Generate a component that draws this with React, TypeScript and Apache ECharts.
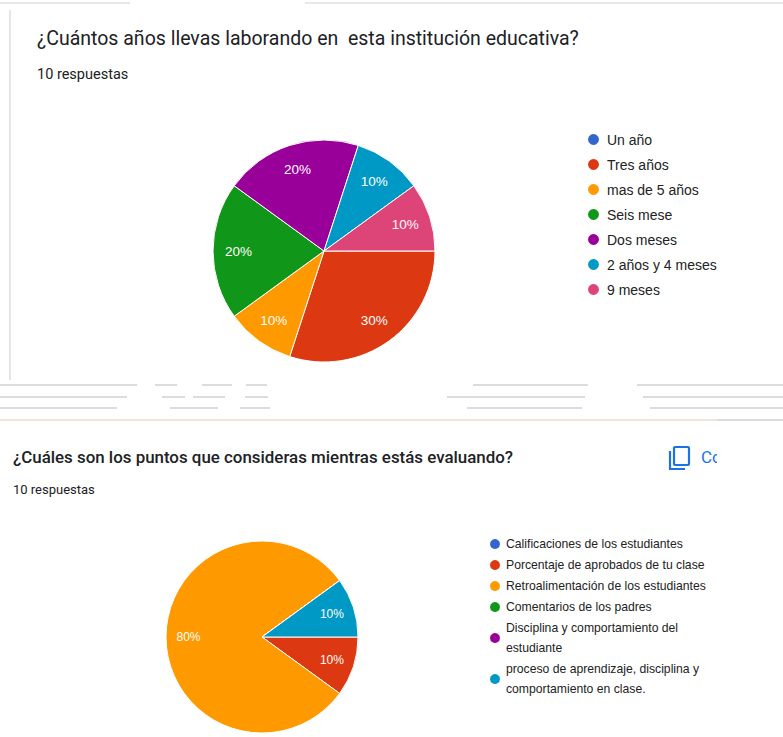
import React, { useEffect, useRef } from "react";
import * as echarts from "echarts";

const topTitle = "¿Cuántos años llevas laborando en  esta institución educativa?";
const bottomTitle = "¿Cuáles son los puntos que consideras mientras estás evaluando?";
const responsesText = "10 respuestas";

const topCategories = ["Un año", "Tres años", "mas de 5 años", "Seis mese", "Dos meses", "2 años y 4 meses", "9 meses"];
const topValues = [0, 3, 1, 2, 2, 1, 1];
const topColors = ["#3366cc", "#dc3912", "#ff9900", "#109618", "#990099", "#0099c6", "#dd4477"];

const bottomCategories = [
  "Calificaciones de los estudiantes",
  "Porcentaje de aprobados de tu clase",
  "Retroalimentación de los estudiantes",
  "Comentarios de los padres",
  "Disciplina y comportamiento del estudiante",
  "proceso de aprendizaje, disciplina y comportamiento en clase.",
];
const bottomValues = [0, 1, 8, 0, 0, 1];
const bottomColors = ["#3366cc", "#dc3912", "#ff9900", "#109618", "#990099", "#0099c6"];

const ARIAL = "'Liberation Sans', Arial, sans-serif";
const ROBOTO = "Roboto, 'Noto Sans', sans-serif";

function mkData(names: string[], values: number[], colors: string[]) {
  return names.map((n, i) => ({ name: n, value: values[i], itemStyle: { color: colors[i] } }));
}

function seg(y: number, x1: number, x2: number, color = "#dcdcdc", w = 2) {
  return { type: "line", silent: true, shape: { x1, y1: y, x2, y2: y }, style: { stroke: color, lineWidth: w } };
}

export default function App() {
  const ref = useRef<HTMLDivElement>(null);
  useEffect(() => {
    if (!ref.current) return;
    const chart = echarts.init(ref.current, undefined, { renderer: "svg" });
    const labelCfg = (size: number) => ({
      show: true,
      position: "inside",
      formatter: "{d}%",
      color: "#fff",
      fontSize: size,
      fontFamily: ARIAL,
    });
    chart.setOption({
      animation: false,
      backgroundColor: "#ffffff",
      title: [
        { text: topTitle, left: 37, top: 28, padding: 0, textStyle: { fontFamily: ROBOTO, fontSize: 19.5, fontWeight: "normal", color: "#202124" } },
        { text: responsesText, left: 37, top: 67, padding: 0, textStyle: { fontFamily: ROBOTO, fontSize: 14.5, fontWeight: "normal", color: "#202124" } },
        { text: bottomTitle, left: 13, top: 448, padding: 0, textStyle: { fontFamily: ROBOTO, fontSize: 16.9, fontWeight: 500, color: "#202124" } },
        { text: responsesText, left: 13, top: 483, padding: 0, textStyle: { fontFamily: ROBOTO, fontSize: 13, fontWeight: "normal", color: "#202124" } },
      ],
      legend: [
        {
          data: topCategories,
          orient: "vertical",
          left: 586,
          top: 132,
          padding: 0,
          icon: "circle",
          itemWidth: 13,
          itemHeight: 13,
          itemGap: 10,
          selectedMode: false,
          textStyle: { fontFamily: ARIAL, fontSize: 14, color: "#222", padding: [0, 0, 0, 2] },
        },
        {
          data: bottomCategories,
          orient: "vertical",
          left: 488,
          top: 534,
          padding: 0,
          icon: "circle",
          itemWidth: 12,
          itemHeight: 12,
          itemGap: 1,
          selectedMode: false,
          textStyle: { fontFamily: ARIAL, fontSize: 12.2, color: "#222", lineHeight: 20, width: 216, overflow: "break" },
        },
      ],
      series: [
        {
          type: "pie",
          center: [324, 251],
          radius: [0, 111],
          startAngle: 0,
          clockwise: true,
          silent: true,
          label: { show: false },
          labelLine: { show: false },
          itemStyle: { borderColor: "#fff", borderWidth: 1 },
          data: mkData(topCategories, topValues, topColors),
        },
        {
          type: "pie",
          center: [262, 637],
          radius: [0, 96],
          startAngle: 0,
          clockwise: true,
          silent: true,
          label: { show: false },
          labelLine: { show: false },
          itemStyle: { borderColor: "#fff", borderWidth: 1 },
          data: mkData(bottomCategories, bottomValues, bottomColors),
        },
        {
          type: "pie",
          center: [324, 251],
          radius: [54, 111],
          startAngle: 0,
          clockwise: true,
          silent: true,
          minShowLabelAngle: 1,
          avoidLabelOverlap: false,
          label: labelCfg(13.5),
          labelLine: { show: false },
          itemStyle: { color: "rgba(0,0,0,0)", borderWidth: 0 },
          data: topValues,
        },
        {
          type: "pie",
          center: [262, 637],
          radius: [45, 96],
          startAngle: 0,
          clockwise: true,
          silent: true,
          minShowLabelAngle: 1,
          avoidLabelOverlap: false,
          label: labelCfg(12),
          labelLine: { show: false },
          itemStyle: { color: "rgba(0,0,0,0)", borderWidth: 0 },
          data: bottomValues,
        },
      ],
      graphic: [
        seg(3, 0, 130, "#e8e8e8", 2),
        seg(3, 305, 783, "#e8e8e8", 2),
        { type: "line", silent: true, shape: { x1: 10, y1: 10, x2: 10, y2: 380 }, style: { stroke: "#dddddd", lineWidth: 1.5 } },
        seg(385, 0, 137), seg(385, 155, 177), seg(385, 202, 232), seg(385, 246, 267), seg(385, 473, 588), seg(385, 637, 783),
        seg(397, 0, 127), seg(397, 162, 185), seg(397, 193, 225), seg(397, 245, 268), seg(397, 447, 585), seg(397, 643, 783),
        seg(408, 0, 117), seg(408, 170, 218), seg(408, 240, 270), seg(408, 467, 582), seg(408, 650, 783),
        seg(420, 0, 717, "#f3e4d6", 2),
        seg(420, 717, 783, "#dddddd", 2),
        {
          type: "rect",
          silent: true,
          shape: { x: 674, y: 447, width: 15, height: 18, r: 1 },
          style: { fill: "none", stroke: "#1a73e8", lineWidth: 2.2 },
        },
        {
          type: "polyline",
          silent: true,
          shape: { points: [[670, 451], [670, 469], [685, 469]] },
          style: { fill: "none", stroke: "#1a73e8", lineWidth: 2.2 },
        },
        {
          type: "text",
          silent: true,
          x: 701,
          y: 457,
          style: { text: "Co", fill: "#1a73e8", fontSize: 17, fontFamily: ROBOTO, textVerticalAlign: "middle" },
        },
        { type: "rect", silent: true, z: 100, shape: { x: 717, y: 440, width: 66, height: 30 }, style: { fill: "#ffffff" } },
      ],
    });
    return () => chart.dispose();
  }, []);
  return <div ref={ref} style={{ position: "fixed", left: 0, top: 0, width: 783, height: 737 }} />;
}
